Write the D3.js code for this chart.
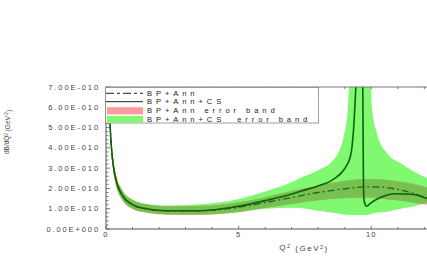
<!DOCTYPE html>
<html>
<head>
<meta charset="utf-8">
<script src="https://cdn.jsdelivr.net/npm/d3@7"></script>
<style>
  body { margin: 0; background: #fff; }
  text { font-family: "Liberation Sans", Arial, sans-serif; }
</style>
</head>
<body>
<div id="wrapper"></div>
<script>
// values in units of 1e-10 GeV^-2
const annQ  = [0.15, 0.2, 0.28, 0.4, 0.6, 1.0, 1.5, 2.3, 3.5, 4.8, 6.0, 7.0, 8.0, 9.0, 9.8, 10.3, 11.0, 11.6, 12.1]
const annVal = [5.2, 4.1, 3.1, 2.3, 1.7, 1.2, 1.0, 0.9, 0.9, 1.03, 1.3, 1.55, 1.8, 1.98, 2.08, 2.07, 1.95, 1.75, 1.52]
const annLo  = [4.95, 3.8, 2.8, 2.03, 1.45, 0.98, 0.8, 0.7, 0.69, 0.8, 1.03, 1.23, 1.42, 1.52, 1.55, 1.5, 1.4, 1.3, 1.2]
const annHi  = [5.35, 4.35, 3.35, 2.55, 1.95, 1.43, 1.22, 1.12, 1.13, 1.28, 1.57, 1.87, 2.14, 2.38, 2.47, 2.45, 2.35, 2.22, 2.05]

const csQ   = [0.15, 0.2, 0.28, 0.4, 0.6, 1.0, 1.5, 2.3, 3.5, 4.8, 6.0, 7.0, 7.3, 7.95, 8.57, 8.96, 9.21, 9.33, 9.40, 9.46, 9.52, 9.62, 9.66, 9.685, 9.70, 9.72, 9.77, 9.83, 9.95, 10.34, 10.9, 11.6, 12.1]
const csVal = [5.2, 4.1, 3.1, 2.3, 1.7, 1.2, 1.0, 0.9, 0.9, 1.08, 1.4, 1.72, 1.85, 2.1, 2.45, 2.91, 3.56, 4.88, 6.52, 8.0, 9.0, 9.0, 8.5, 6.0, 3.0, 1.5, 1.2, 1.12, 1.25, 1.55, 1.74, 1.7, 1.5]

const csBandQ  = [0.15, 0.2, 0.28, 0.4, 0.6, 1.0, 1.5, 2.3, 3.5, 4.8, 6.0, 7.0, 7.3, 8.0, 8.57, 8.96, 9.1, 9.16, 9.23, 9.5, 9.96, 10.02, 10.21, 10.59, 11.1, 11.7, 12.1]
const csBandLo = [4.97, 3.82, 2.82, 2.05, 1.48, 1.0, 0.82, 0.72, 0.71, 0.8, 1.0, 1.05, 1.03, 0.9, 0.8, 0.72, 0.7, 0.7, 0.69, 0.69, 0.72, 0.75, 0.8, 0.85, 1.0, 1.15, 1.3]
const csBandHi = [5.35, 4.35, 3.35, 2.55, 1.95, 1.45, 1.25, 1.16, 1.22, 1.42, 1.85, 2.3, 2.5, 2.9, 3.4, 4.55, 5.7, 6.85, 7.8, 8.0, 7.8, 6.03, 4.72, 3.74, 3.25, 2.76, 2.51]

const yTicks = [0, 1, 2, 3, 4, 5, 6, 7]
const yTickLabels = ["0.00E+000", "1.00E-010", "2.00E-010", "3.00E-010", "4.00E-010", "5.00E-010", "6.00E-010", "7.00E-010"]
const xTicks = [0, 5, 10]
const xTickLabels = ["0", "5", "10"]

const legendLabels = ["BP+Ann", "BP+Ann+CS", "BP+Ann error band", "BP+Ann+CS  error band"]

const width = 427, height = 262
const plot = { left: 106, right: 427, top: 87, bottom: 229 }

const svg = d3.select("#wrapper").append("svg")
  .attr("width", width)
  .attr("height", height)

const xScale = d3.scaleLinear().domain([0, 12.1]).range([plot.left, plot.right])
const yScale = d3.scaleLinear().domain([0, 7]).range([plot.bottom, plot.top])

const defs = svg.append("defs")
defs.append("clipPath").attr("id", "plotClip")
  .append("rect")
    .attr("x", plot.left).attr("y", plot.top)
    .attr("width", plot.right - plot.left).attr("height", plot.bottom - plot.top)

const annBand = annQ.map((q, i) => ({ q, lo: annLo[i], hi: annHi[i] }))
const csBand = csBandQ.map((q, i) => ({ q, lo: csBandLo[i], hi: csBandHi[i] }))

const area = d3.area()
  .x(d => xScale(d.q))
  .y0(d => yScale(d.lo))
  .y1(d => yScale(d.hi))
  .curve(d3.curveMonotoneX)

defs.append("clipPath").attr("id", "csClip")
  .append("path").attr("d", area(csBand))

const g = svg.append("g").attr("clip-path", "url(#plotClip)")

// overlap of the two bands is drawn olive
g.append("path").attr("d", area(csBand)).attr("fill", "#80f870")
g.append("path").attr("d", area(annBand)).attr("fill", "#ff9a9a")
g.append("g").attr("clip-path", "url(#csClip)")
  .append("path").attr("d", area(annBand)).attr("fill", "#78c050")

const line = d3.line()
  .x(d => xScale(d[0]))
  .y(d => yScale(d[1]))
  .curve(d3.curveMonotoneX)

g.append("path")
  .attr("d", line(annQ.map((q, i) => [q, annVal[i]])))
  .attr("fill", "none")
  .attr("stroke", "#1a6a1a")
  .attr("stroke-width", 1.3)
  .attr("stroke-dasharray", "7,3,2,3")

g.append("path")
  .attr("d", line(csQ.map((q, i) => [q, csVal[i]])))
  .attr("fill", "none")
  .attr("stroke", "#106010")
  .attr("stroke-width", 1.6)

// axes
const axisColor = "#555"
svg.append("line")
  .attr("x1", plot.left).attr("x2", plot.right)
  .attr("y1", plot.bottom).attr("y2", plot.bottom)
  .attr("stroke", axisColor)
svg.append("line")
  .attr("x1", plot.left).attr("x2", plot.right)
  .attr("y1", plot.top).attr("y2", plot.top)
  .attr("stroke", "#777")
svg.append("line")
  .attr("x1", plot.left).attr("x2", plot.left)
  .attr("y1", plot.top).attr("y2", plot.bottom)
  .attr("stroke", axisColor)

// y ticks (major + 5 subdivisions, inside)
const yMinor = d3.range(0, 7.001, 0.2)
svg.append("g").selectAll("line").data(yMinor).join("line")
  .attr("x1", plot.left)
  .attr("x2", d => plot.left + (Math.abs(d - Math.round(d)) < 1e-6 ? 4 : 2.5))
  .attr("y1", d => yScale(d)).attr("y2", d => yScale(d))
  .attr("stroke", axisColor).attr("stroke-width", 0.8)

svg.append("g").selectAll("text").data(yTicks).join("text")
  .attr("x", 100)
  .attr("y", d => yScale(d))
  .attr("dy", "0.35em")
  .attr("text-anchor", "end")
  .attr("font-size", 7.5)
  .attr("letter-spacing", 1.9)
  .attr("fill", "#444")
  .text((d, i) => yTickLabels[i])

// x ticks, bottom and top
const xMinor = d3.range(0, 13, 1)
svg.append("g").selectAll("line").data(xMinor).join("line")
  .attr("x1", d => xScale(d)).attr("x2", d => xScale(d))
  .attr("y1", plot.bottom)
  .attr("y2", d => plot.bottom - (d % 5 === 0 ? 3 : 2))
  .attr("stroke", axisColor).attr("stroke-width", 0.8)
svg.append("g").selectAll("line").data(xMinor).join("line")
  .attr("x1", d => xScale(d)).attr("x2", d => xScale(d))
  .attr("y1", plot.top)
  .attr("y2", d => plot.top + 2)
  .attr("stroke", axisColor).attr("stroke-width", 0.8)

svg.append("g").selectAll("text").data(xTicks).join("text")
  .attr("x", d => xScale(d))
  .attr("y", 234)
  .attr("dy", "0.35em")
  .attr("text-anchor", "middle")
  .attr("font-size", 7.5)
  .attr("letter-spacing", 1.2)
  .attr("fill", "#444")
  .text((d, i) => xTickLabels[i])

// axis titles
const xTitle = svg.append("text")
  .attr("x", 304).attr("y", 247)
  .attr("dy", "0.35em")
  .attr("text-anchor", "middle")
  .attr("font-size", 8)
  .attr("letter-spacing", 1.5)
  .attr("fill", "#444")
xTitle.append("tspan").text("Q")
xTitle.append("tspan").attr("font-size", 5.5).attr("dy", "-0.3em").text("2")
xTitle.append("tspan").attr("dy", "0.3em").text(" (GeV")
xTitle.append("tspan").attr("font-size", 5.5).attr("dy", "-0.3em").text("2")
xTitle.append("tspan").attr("dy", "0.3em").text(")")

const yTitle = svg.append("text")
  .attr("transform", "translate(7,132) rotate(-90)")
  .attr("text-anchor", "middle")
  .attr("dy", "0.35em")
  .attr("font-size", 6.5)
  .attr("fill", "#444")
yTitle.append("tspan").text("dB/dQ")
yTitle.append("tspan").attr("font-size", 4.5).attr("dy", "-0.35em").text("2")
yTitle.append("tspan").attr("dy", "0.35em").text(" (GeV")
yTitle.append("tspan").attr("font-size", 4.5).attr("dy", "-0.35em").text("-2")
yTitle.append("tspan").attr("dy", "0.35em").text(")")

// legend
const legend = svg.append("g")
legend.append("rect")
  .attr("x", 105.5).attr("y", 87.5)
  .attr("width", 213).attr("height", 35.5)
  .attr("fill", "#fff")
  .attr("stroke", "#888")
  .attr("stroke-width", 0.8)

const rowY = [93.3, 101.7, 110.8, 119.3]
legend.append("line")
  .attr("x1", 106).attr("x2", 143).attr("y1", rowY[0]).attr("y2", rowY[0])
  .attr("stroke", "#222").attr("stroke-dasharray", "8,3,3,3")
legend.append("line")
  .attr("x1", 106).attr("x2", 143).attr("y1", rowY[1]).attr("y2", rowY[1])
  .attr("stroke", "#222")
legend.append("rect")
  .attr("x", 107).attr("y", rowY[2] - 3.6).attr("width", 36).attr("height", 7.2)
  .attr("fill", "#ff9a9a")
legend.append("rect")
  .attr("x", 107).attr("y", rowY[3] - 3.4).attr("width", 36).attr("height", 6.8)
  .attr("fill", "#80f870")

legend.selectAll("text.lab").data(legendLabels).join("text")
  .attr("class", "lab")
  .attr("x", 147)
  .attr("y", (d, i) => rowY[i])
  .attr("dy", "0.35em")
  .attr("font-size", 7.6)
  .attr("letter-spacing", 3.9)
  .attr("fill", "#222")
  .attr("xml:space", "preserve")
  .text(d => d)
</script>
</body>
</html>
